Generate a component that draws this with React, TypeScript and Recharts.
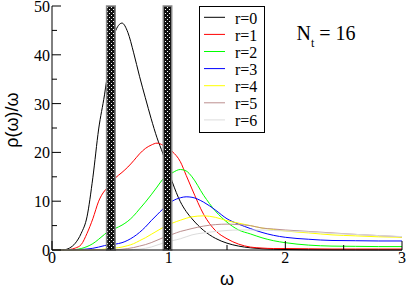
import React from 'react';
import { LineChart, Line, XAxis, YAxis, Legend, ReferenceArea } from 'recharts';

const W = [0, 0.1, 0.15, 0.2, 0.25, 0.3, 0.35, 0.4, 0.45, 0.47, 0.54, 0.6, 0.65, 0.7, 0.75, 0.8, 0.85, 0.9, 0.95, 1.03, 1.1, 1.15, 1.2, 1.3, 1.4, 1.5, 1.6, 1.7, 1.8, 1.9, 2.0, 2.2, 2.4, 2.6, 2.8, 3.0];
const R0 = [0, 0.05, 0.4, 1.4, 3.4, 6.8, 14.8, 24.8, 31.8, 35.0, 44.6, 46.5, 44.6, 40.4, 35.6, 31.2, 26.9, 23.0, 19.8, 14.0, 9.9, 7.9, 6.4, 4.0, 2.4, 1.4, 0.8, 0.45, 0.25, 0.15, 0.1, 0.05, 0.03, 0.02, 0.01, 0.01];
const R1 = [0, 0, 0.1, 0.4, 1.1, 3.4, 6.4, 10.0, 12.1, 12.6, 14.7, 15.9, 17.0, 18.3, 19.7, 20.8, 21.5, 21.9, 21.5, 20.2, 18.1, 15.3, 12.5, 7.3, 4.0, 2.3, 1.2, 0.6, 0.4, 0.3, 0.3, 0.25, 0.2, 0.2, 0.2, 0.2];
const R2 = [0, 0, 0, 0.1, 0.3, 0.7, 1.3, 2.2, 3.2, 3.6, 4.4, 5.1, 5.9, 7.0, 8.4, 9.8, 11.3, 12.9, 14.5, 15.8, 16.5, 16.2, 15.0, 11.2, 8.0, 5.7, 4.1, 3.3, 2.5, 1.9, 1.5, 1.0, 0.8, 0.75, 0.7, 0.7];
const R3 = [0, 0, 0, 0.05, 0.1, 0.2, 0.35, 0.6, 0.9, 1.0, 1.2, 1.5, 2.0, 2.7, 3.6, 4.7, 6.0, 7.2, 8.4, 10.0, 10.7, 10.9, 10.8, 9.8, 8.2, 6.4, 5.3, 4.4, 3.6, 3.0, 2.6, 2.2, 1.95, 1.9, 1.85, 1.85];
const R4 = [0, 0, 0, 0, 0, 0, 0.05, 0.1, 0.2, 0.3, 0.4, 0.6, 0.9, 1.3, 1.9, 2.5, 3.2, 3.9, 4.6, 5.5, 6.1, 6.5, 6.8, 7.0, 6.7, 6.0, 5.5, 5.0, 4.5, 4.2, 3.9, 3.5, 3.1, 2.9, 2.7, 2.6];
const R5 = [0, 0, 0, 0, 0, 0, 0, 0, 0, 0, 0.05, 0.15, 0.3, 0.5, 0.8, 1.1, 1.5, 2.0, 2.5, 3.2, 3.8, 4.1, 4.4, 4.9, 5.2, 5.3, 5.2, 5.0, 4.5, 4.3, 4.1, 3.8, 3.5, 3.2, 2.95, 2.7];
const R6 = [0, 0, 0, 0, 0, 0, 0, 0, 0, 0, 0, 0, 0, 0.1, 0.2, 0.35, 0.6, 1.0, 1.4, 1.9, 2.3, 2.7, 3.1, 3.5, 3.8, 4.0, 4.1, 4.1, 4.1, 4.0, 3.9, 3.7, 3.4, 3.2, 2.95, 2.75];

const SERIES = [R0, R1, R2, R3, R4, R5, R6];
const SERIES_NAMES = ['r=0', 'r=1', 'r=2', 'r=3', 'r=4', 'r=5', 'r=6'];
const SERIES_COLORS = ['#000000', '#ff0000', '#00ff00', '#0000ff', '#ffff00', '#bc8f8f', '#dcdcdc'];

const BAND_FROM = [0.468, 0.954];
const BAND_TO = [0.542, 1.026];

const X_TICKS = [0, 0.5, 1, 1.5, 2, 2.5, 3];
const Y_TICKS = [0, 5, 10, 15, 20, 25, 30, 35, 40, 45, 50];

const rows = W.map((w, i) => {
  const row: Record<string, number> = { w };
  SERIES.forEach((s, k) => { row['r' + k] = s[i]; });
  return row;
});

const SERIF = '"Liberation Serif", "Times New Roman", serif';
const SANS = '"Liberation Sans", Arial, sans-serif';

const BottomTick = (props: any) => {
  const { x, y, payload } = props;
  const v = payload.value;
  const major = Number.isInteger(v);
  return (
    <g>
      <line x1={x} y1={y} x2={x} y2={y - (major ? 9 : 5)} stroke="#000" strokeWidth={1} />
      {major && (
        <text x={x} y={y + 13} textAnchor="middle" fontFamily={SERIF} fontSize={16} fill="#000">{v}</text>
      )}
    </g>
  );
};

const TopTick = (props: any) => {
  const { x, y, payload } = props;
  const major = Number.isInteger(payload.value);
  return <line x1={x} y1={y} x2={x} y2={y + (major ? 9 : 5)} stroke="#000" strokeWidth={1} />;
};

const LeftTick = (props: any) => {
  const { x, y, payload } = props;
  const v = payload.value;
  const major = v % 10 === 0;
  return (
    <g>
      <line x1={x} y1={y} x2={x + (major ? 9 : 5)} y2={y} stroke="#000" strokeWidth={1} />
      {major && (
        <text x={x - 2} y={y + 6} textAnchor="end" fontFamily={SERIF} fontSize={16} fill="#000">{v}</text>
      )}
    </g>
  );
};

const RightTick = (props: any) => {
  const { x, y, payload } = props;
  const major = payload.value % 10 === 0;
  return <line x1={x} y1={y} x2={x - (major ? 9 : 5)} y2={y} stroke="#000" strokeWidth={1} />;
};

const YLabel = () => (
  <text x={18} y={120} transform="rotate(-90 18 120)" textAnchor="middle" fontFamily={SANS} fontSize={18} fill="#000">
    ρ(ω)/ω
  </text>
);

const LegendBox = (props: any) => {
  const payload = props.payload || [];
  return (
    <svg width={208} height={134} style={{ display: 'block', overflow: 'visible' }}>
      <rect x={0.5} y={0.5} width={65} height={126} fill="#fff" stroke="#000" strokeWidth={1} />
      {payload.map((e: any, i: number) => {
        const yy = 11.3 + i * 17.1;
        return (
          <g key={i}>
            <line x1={5} x2={26} y1={yy} y2={yy} stroke={e.color} strokeWidth={1} />
            <text x={36} y={yy + 6.5} fontFamily={SERIF} fontSize={16} fill="#000">{e.value}</text>
          </g>
        );
      })}
      <text x={97.5} y={33.5} fontFamily={SERIF} fontSize={20} fill="#000">
        N<tspan fontSize={12} dy={7}>t</tspan><tspan dy={-7}> = 16</tspan>
      </text>
    </svg>
  );
};

export default function App() {
  return (
    <div style={{ position: 'absolute', left: 0, top: 0, width: 407, height: 288, background: '#fff' }}>
      <svg width={0} height={0} style={{ position: 'absolute' }}>
        <defs>
          <pattern id="dots" patternUnits="userSpaceOnUse" width={4} height={4}>
            <rect x={0} y={0} width={4} height={4} fill="#111" />
            <rect x={1} y={1} width={1} height={1} fill="#fff" />
            <rect x={3} y={3} width={1} height={1} fill="#fff" />
          </pattern>
        </defs>
      </svg>
      <LineChart width={407} height={288} data={rows} margin={{ top: 6, right: 5, bottom: 0, left: 0 }}>
        <XAxis
          dataKey="w"
          type="number"
          domain={[0, 3]}
          ticks={X_TICKS}
          interval={0}
          height={38}
          tickSize={0}
          tickMargin={0}
          tickLine={false}
          tick={<BottomTick />}
          axisLine={{ stroke: '#000', strokeWidth: 1 }}
          label={{ value: 'ω', position: 'insideBottom', offset: 3, fontFamily: SANS, fontSize: 18, fill: '#000' }}
        />
        <XAxis
          xAxisId="top"
          orientation="top"
          dataKey="w"
          type="number"
          domain={[0, 3]}
          ticks={X_TICKS}
          interval={0}
          height={0}
          tickSize={0}
          tickMargin={0}
          tickLine={false}
          tick={<TopTick />}
          axisLine={{ stroke: '#000', strokeWidth: 1 }}
        />
        <YAxis
          type="number"
          domain={[0, 50]}
          ticks={Y_TICKS}
          interval={0}
          width={52}
          tickSize={0}
          tickMargin={0}
          tickLine={false}
          tick={<LeftTick />}
          axisLine={{ stroke: '#000', strokeWidth: 1 }}
          label={{ content: YLabel }}
        />
        <YAxis
          yAxisId="right"
          orientation="right"
          type="number"
          domain={[0, 50]}
          ticks={Y_TICKS}
          interval={0}
          width={0}
          tickSize={0}
          tickMargin={0}
          tickLine={false}
          tick={<RightTick />}
          axisLine={{ stroke: '#000', strokeWidth: 1 }}
        />
        {SERIES.map((_, k) => (
          <Line
            key={k}
            type="monotone"
            dataKey={'r' + k}
            name={SERIES_NAMES[k]}
            stroke={SERIES_COLORS[k]}
            strokeWidth={1}
            dot={false}
            activeDot={false}
            isAnimationActive={false}
          />
        ))}
        {BAND_FROM.map((x1, i) => (
          <ReferenceArea
            key={'b' + i}
            x1={x1}
            x2={BAND_TO[i]}
            y1={0}
            y2={50}
            fill="url(#dots)"
            fillOpacity={1}
            stroke="#888"
            strokeWidth={1.5}
            zIndex={450}
          />
        ))}
        <Legend
          layout="vertical"
          align="center"
          verticalAlign="middle"
          content={<LegendBox />}
          wrapperStyle={{ position: 'absolute', left: 199, top: 6, width: 208, height: 134 }}
        />
      </LineChart>
    </div>
  );
}
